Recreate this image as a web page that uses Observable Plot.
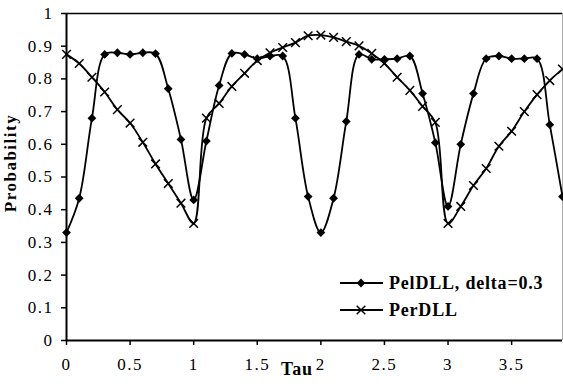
<!DOCTYPE html>
<html><head><meta charset="utf-8">
<script src="https://cdn.jsdelivr.net/npm/d3@7"></script>
<script src="https://cdn.jsdelivr.net/npm/@observablehq/plot@0.6"></script>
<style>
body{margin:0;background:#fff;}
#wrap{position:relative;width:563px;height:384px;}
#wrap svg text{letter-spacing:1.5px;}
</style></head><body><div id="wrap"></div>
<script>
const tau = [0,0.1,0.2,0.3,0.4,0.5,0.6,0.7,0.8,0.9,1.0,1.1,1.2,1.3,1.4,1.5,1.6,1.7,1.8,1.9,2.0,2.1,2.2,2.3,2.4,2.5,2.6,2.7,2.8,2.9,3.0,3.1,3.2,3.3,3.4,3.5,3.6,3.7,3.8,3.9];
const pelDLL = [0.33,0.435,0.68,0.875,0.88,0.875,0.88,0.877,0.77,0.615,0.43,0.61,0.78,0.878,0.875,0.862,0.87,0.87,0.68,0.44,0.33,0.435,0.67,0.875,0.86,0.86,0.862,0.87,0.755,0.605,0.41,0.60,0.755,0.862,0.87,0.862,0.862,0.862,0.66,0.44];
const perDLL = [0.875,0.847,0.805,0.76,0.706,0.665,0.606,0.54,0.48,0.42,0.358,0.68,0.725,0.777,0.817,0.856,0.88,0.896,0.911,0.932,0.934,0.927,0.914,0.901,0.878,0.847,0.805,0.765,0.716,0.667,0.358,0.41,0.474,0.526,0.594,0.64,0.70,0.752,0.795,0.83];
const xTicks = [0,0.5,1,1.5,2,2.5,3,3.5];
const yTicks = [0,0.1,0.2,0.3,0.4,0.5,0.6,0.7,0.8,0.9,1];
const seriesNames = ["PelDLL, delta=0.3","PerDLL"];
const xLabel = "Tau";
const yLabel = "Probability";

const pel = tau.map((t,i)=>({tau:t,p:pelDLL[i]}));
const per = tau.map((t,i)=>({tau:t,p:perDLL[i]}));
const font = "'Liberation Serif','Times New Roman',serif";

const chart = Plot.plot({
  width:563, height:384,
  marginLeft:66, marginRight:1, marginTop:13, marginBottom:44,
  style:{fontFamily:font, fontSize:"17px", background:"white", color:"black"},
  x:{domain:[0,3.9]},
  y:{domain:[0,1]},
  marks:[
    Plot.ruleX([3.9],{stroke:"#aaa",strokeWidth:1}),
    Plot.ruleY([1],{stroke:"black",strokeWidth:1.6}),
    Plot.axisX({ticks:xTicks, tickSize:5, tickPadding:12, label:null, strokeWidth:1.5, tickFormat:d=>String(d)}),
    Plot.axisY({ticks:yTicks, tickSize:5, tickPadding:8, label:null, strokeWidth:1.5, tickFormat:d=>String(d)}),
    Plot.ruleY([0],{stroke:"black",strokeWidth:2}),
    Plot.ruleX([0],{stroke:"black",strokeWidth:2}),
    Plot.line(per,{x:"tau",y:"p",curve:"catmull-rom",stroke:"black",strokeWidth:1.8}),
    Plot.dot(per,{x:"tau",y:"p",symbol:"times",r:4,stroke:"black",strokeWidth:1.5}),
    Plot.line(pel,{x:"tau",y:"p",curve:"catmull-rom",stroke:"black",strokeWidth:1.8}),
    Plot.dot(pel,{x:"tau",y:"p",symbol:"square",rotate:45,r:3.5,fill:"black",stroke:"none"})
  ]
});
document.getElementById("wrap").appendChild(chart);

const svg = d3.select(chart);
// axis titles
svg.append("text").attr("x",297).attr("y",375).attr("text-anchor","middle")
  .attr("font-family",font).attr("font-size",18).attr("font-weight","bold")
  .style("letter-spacing","0.8px").text(xLabel);
svg.append("text").attr("transform","translate(16,163) rotate(-90)").attr("text-anchor","middle")
  .attr("font-family",font).attr("font-size",17).attr("font-weight","bold").text(yLabel);

// legend
const lg = svg.append("g");
const rows = [{y:283, sym:d3.symbolSquare, rot:45, size:Math.PI*3.5*3.5, fill:"black", stroke:"none"},
              {y:310, sym:d3.symbolTimes, rot:0, size:Math.PI*4*4, fill:"none", stroke:"black"}];
rows.forEach((r,i)=>{
  lg.append("line").attr("x1",340).attr("x2",383).attr("y1",r.y).attr("y2",r.y)
    .attr("stroke","black").attr("stroke-width",1.8);
  lg.append("path").attr("d",d3.symbol(r.sym,r.size)())
    .attr("transform",`translate(361,${r.y}) rotate(${r.rot})`)
    .attr("fill",r.fill).attr("stroke",r.stroke).attr("stroke-width",1.5);
  lg.append("text").attr("x",389).attr("y",r.y+6).attr("text-anchor","start")
    .attr("font-family",font).attr("font-size",18)
    .attr("font-weight","bold").style("letter-spacing","0.8px").text(seriesNames[i]);
});
</script>
</body></html>
